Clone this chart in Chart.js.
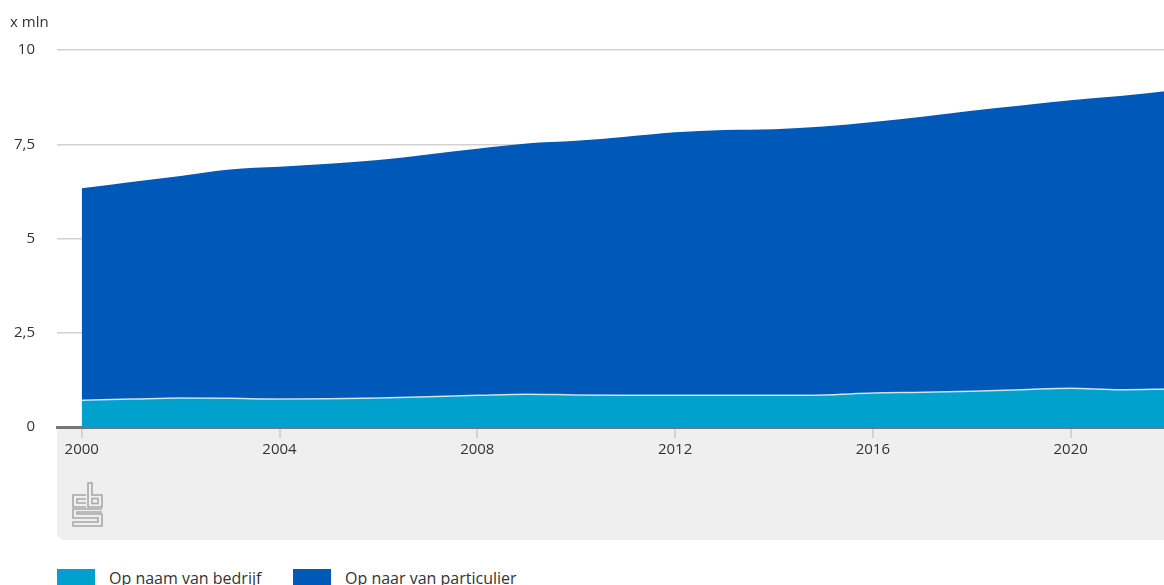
<!DOCTYPE html>
<html>
<head>
<meta charset="utf-8">
<script src="https://cdn.jsdelivr.net/npm/chart.js@4"></script>
<style>
  html, body { margin: 0; padding: 0; background: #fff; overflow: hidden; width: 1164px; height: 585px; }
  body { position: relative; font-family: "Open Sans", sans-serif; color: #333; }
  #band { position: absolute; left: 57px; top: 427px; width: 1130px; height: 113px; background: #efefef; border-bottom-left-radius: 8px; }
  #wrap { position: absolute; left: 0; top: 0; width: 1171px; height: 470px; }
  #unit { position: absolute; left: 10px; top: 11px; font-size: 15px; color: #333; }
  #logo { position: absolute; left: 71px; top: 481px; }
  .leg { position: absolute; top: 569px; height: 20px; font-size: 16px; line-height: 16px; white-space: nowrap; }
  .sw { position: absolute; top: 0; width: 38px; height: 20px; }
  .lt { position: absolute; top: 1px; }
</style>
</head>
<body>
<div id="band"></div>
<svg id="logo" width="33" height="47" viewBox="0 0 33 47">
  <g fill="none" stroke="#a8a8a8" stroke-width="1.6">
    <path d="M15 14 H2 V26 H15 M15 18 H6 V22 H15"/>
    <path d="M17 2 H21 V14 H31 V26 H17 Z"/>
    <rect x="21" y="17.5" width="6" height="5"/>
    <path d="M31 28 H2 V37 H27 V41 H2 V45 H31 V33 H6 V31 H31"/>
  </g>
</svg>
<div id="wrap"><canvas id="c"></canvas></div>
<div id="unit">x mln</div>
<div class="leg" style="left:57px"><div class="sw" style="left:0;background:#00a1cd"></div><div class="lt" style="left:52px">Op naam van bedrijf</div></div>
<div class="leg" style="left:293px"><div class="sw" style="left:0;background:#0058b8"></div><div class="lt" style="left:52px">Op naar van particulier</div></div>
<script>
const years = [2000,2001,2002,2003,2004,2005,2006,2007,2008,2009,2010,2011,2012,2013,2014,2015,2016,2017,2018,2019,2020,2021,2022];
const bedrijf = [0.71,0.74,0.77,0.76,0.74,0.75,0.77,0.80,0.84,0.87,0.85,0.84,0.84,0.84,0.84,0.85,0.90,0.92,0.95,0.99,1.03,0.99,1.01];
const particulier = [5.62,5.76,5.89,6.07,6.16,6.23,6.31,6.43,6.54,6.65,6.74,6.86,6.98,7.04,7.06,7.12,7.19,7.31,7.44,7.54,7.64,7.79,7.91];
const xTicks = [2000,2004,2008,2012,2016,2020];
const yTicks = [0,2.5,5,7.5,10];
const seriesNames = ["Op naam van bedrijf","Op naar van particulier"];

const font = { family: "Open Sans", size: 15 };
new Chart(document.getElementById('c'), {
  type: 'line',
  data: {
    datasets: [
      { label: seriesNames[0], data: years.map((y,i)=>({x:y,y:bedrijf[i]})), backgroundColor: '#00a1cd',
        borderColor: 'rgba(255,255,255,0.75)', borderWidth: 1.5, fill: 'origin', pointRadius: 0, cubicInterpolationMode: 'monotone' },
      { label: seriesNames[1], data: years.map((y,i)=>({x:y,y:particulier[i]})), backgroundColor: '#0058b8',
        borderColor: '#0058b8', borderWidth: 0, fill: '-1', pointRadius: 0, cubicInterpolationMode: 'monotone' }
    ]
  },
  options: {
    responsive: true, maintainAspectRatio: false, animation: false,
    layout: { padding: { top: 50, right: 0, left: 0, bottom: 0 } },
    plugins: { legend: { display: false }, tooltip: { enabled: false } },
    scales: {
      x: {
        type: 'linear', min: 1999.5, max: 2022.03, z: 1,
        afterBuildTicks: s => { s.ticks = xTicks.map(v => ({ value: v })); },
        afterFit: s => { s.height = 43; },
        grid: { drawOnChartArea: false, drawTicks: true, tickLength: 11, color: '#d4d4d4', lineWidth: 2 },
        border: { display: true, color: '#767676', width: 3 },
        ticks: { color: '#333', font: font, padding: 3, maxRotation: 0, callback: v => String(v) }
      },
      y: {
        stacked: true, min: 0, max: 10,
        afterBuildTicks: s => { s.ticks = yTicks.map(v => ({ value: v })); },
        afterFit: s => { s.width = 57; },
        grid: { drawTicks: false, color: '#d2d2d2', lineWidth: 1.5 },
        border: { display: false },
        ticks: { color: '#333', font: font, padding: 22, callback: v => String(v).replace('.', ',') }
      }
    }
  }
});
</script>
</body>
</html>
